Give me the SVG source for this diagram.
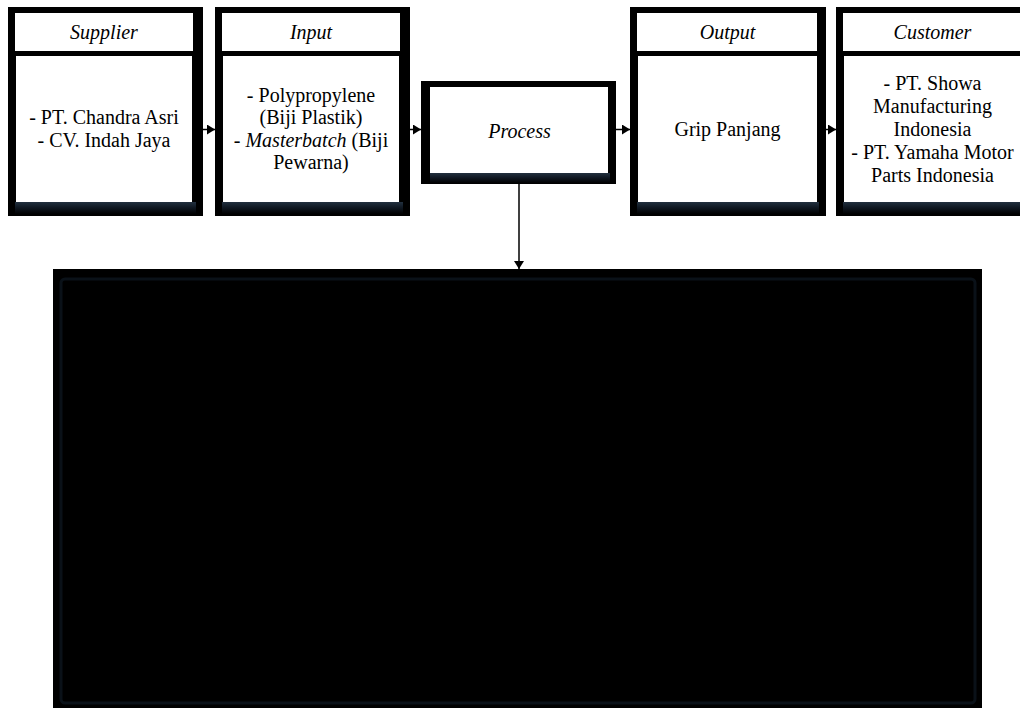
<svg xmlns="http://www.w3.org/2000/svg" width="1020" height="708" viewBox="0 0 1020 708">
<style>
.frame{fill:#000;}
.paper{fill:#fff;}
.shade{fill:url(#sh);}
.t{font-family:"Liberation Serif","Times New Roman",serif;font-size:20px;fill:#000;text-anchor:middle;}
.i{font-style:italic;}
.conn{stroke:#000;stroke-width:1.5;fill:none;}
</style>
<defs>
<linearGradient id="sh" x1="0" y1="0" x2="0" y2="1">
<stop offset="0" stop-color="#22303f"/>
<stop offset="0.5" stop-color="#0e1620"/>
<stop offset="1" stop-color="#000"/>
</linearGradient>
<marker id="ah" markerUnits="userSpaceOnUse" markerWidth="9" markerHeight="11" refX="8" refY="5" orient="auto">
<path d="M0,0 L8,5 L0,10 Z" fill="#000"/>
</marker>
</defs>
<rect width="1020" height="708" fill="#fff"/>

<g id="connectors">
<line class="conn" x1="202" y1="129.5" x2="215" y2="129.5" marker-end="url(#ah)"/>
<line class="conn" x1="410" y1="129.5" x2="421" y2="129.5" marker-end="url(#ah)"/>
<line class="conn" x1="616" y1="129.5" x2="630" y2="129.5" marker-end="url(#ah)"/>
<line class="conn" x1="826" y1="129.5" x2="836" y2="129.5" marker-end="url(#ah)"/>
<line class="conn" x1="519" y1="184" x2="519" y2="269" marker-end="url(#ah)"/>
</g>

<g id="supplier">
<rect class="frame" x="8" y="7" width="195" height="209"/>
<rect class="shade" x="15" y="202" width="181" height="12"/>
<rect class="paper" x="15" y="13" width="178" height="38"/>
<rect class="paper" x="16" y="56" width="176" height="146"/>
<text class="t i" x="104" y="39">Supplier</text>
<text class="t" x="104" y="124">- PT. Chandra Asri</text>
<text class="t" x="104" y="147">- CV. Indah Jaya</text>
</g>

<g id="input">
<rect class="frame" x="215" y="7" width="195" height="209"/>
<rect class="shade" x="222" y="202" width="181" height="12"/>
<rect class="paper" x="222" y="13" width="178" height="38"/>
<rect class="paper" x="223" y="56" width="176" height="146"/>
<text class="t i" x="311" y="39">Input</text>
<text class="t" x="311" y="101.5">- Polypropylene</text>
<text class="t" x="311" y="124">(Biji Plastik)</text>
<text class="t" x="311" y="146.5">- <tspan class="i">Masterbatch</tspan> (Biji</text>
<text class="t" x="311" y="169">Pewarna)</text>
</g>

<g id="process">
<rect class="frame" x="421" y="81" width="195" height="103"/>
<rect class="shade" x="430" y="173" width="180" height="10"/>
<rect class="paper" x="430" y="87" width="178" height="86"/>
<text class="t i" x="519.5" y="137.5">Process</text>
</g>

<g id="output">
<rect class="frame" x="630" y="7" width="196" height="209"/>
<rect class="shade" x="637" y="202" width="182" height="12"/>
<rect class="paper" x="637" y="13" width="180" height="38"/>
<rect class="paper" x="638" y="56" width="179" height="146"/>
<text class="t i" x="727.5" y="39">Output</text>
<text class="t" x="727.5" y="136">Grip Panjang</text>
</g>

<g id="customer">
<rect class="frame" x="836" y="7" width="195" height="209"/>
<rect class="shade" x="843" y="202" width="181" height="12"/>
<rect class="paper" x="843" y="13" width="178" height="38"/>
<rect class="paper" x="844" y="56" width="177" height="146"/>
<text class="t i" x="932.5" y="39">Customer</text>
<text class="t" x="932.5" y="89.5">- PT. Showa</text>
<text class="t" x="932.5" y="112.5">Manufacturing</text>
<text class="t" x="932.5" y="135.5">Indonesia</text>
<text class="t" x="932.5" y="158.5">- PT. Yamaha Motor</text>
<text class="t" x="932.5" y="181.5">Parts Indonesia</text>
</g>

<g id="detail-box">
<rect x="53" y="269" width="929" height="439" fill="#000"/>
<rect x="61" y="279" width="914" height="424" rx="4" fill="none" stroke="#0a1118" stroke-width="3"/>
</g>
</svg>
